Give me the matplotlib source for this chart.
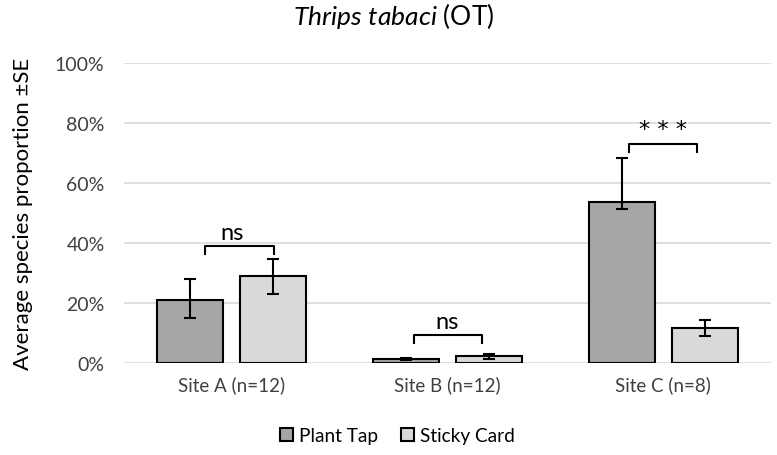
import matplotlib
matplotlib.use("Agg")
import matplotlib.pyplot as plt
import numpy as np

plt.rcParams["font.family"] = ["Lato", "DejaVu Sans"]
plt.rcParams["mathtext.fontset"] = "custom"
plt.rcParams["mathtext.rm"] = "Lato"
plt.rcParams["mathtext.it"] = "Lato:italic"

sites = ["Site A (n=12)", "Site B (n=12)", "Site C (n=8)"]
plant_tap = [21.0, 1.2, 53.8]
plant_lo = [6.0, 0.3, 2.5]
plant_hi = [6.9, 0.3, 14.4]
sticky_card = [28.9, 2.2, 11.8]
sticky_lo = [5.9, 0.9, 2.7]
sticky_hi = [5.9, 0.9, 2.6]

sig_labels = ["ns", "ns", "* * *"]
bracket_top = [39.1, 9.4, 73.1]
bracket_left = [-0.124, -0.156, -0.159]
bracket_right = [0.195, 0.160, 0.156]

x = np.arange(len(sites))
w = 0.306
off = 0.192

fig = plt.figure(figsize=(7.77, 4.56), dpi=100)
ax = fig.add_axes([0.1596, 0.2018, 0.8327, 0.6578])

ax.bar(x - off, plant_tap, w, color="#A6A6A6", edgecolor="black", linewidth=1.5,
       label="Plant Tap", zorder=3)
ax.bar(x + off, sticky_card, w, color="#D9D9D9", edgecolor="black", linewidth=1.5,
       label="Sticky Card", zorder=3)
ax.errorbar(x - off, plant_tap, yerr=[plant_lo, plant_hi], fmt="none", ecolor="black",
            elinewidth=1.5, capsize=4, capthick=1.5, zorder=4)
ax.errorbar(x + off, sticky_card, yerr=[sticky_lo, sticky_hi], fmt="none", ecolor="black",
            elinewidth=1.5, capsize=4, capthick=1.5, zorder=4)

for i in range(len(sites)):
    xl = x[i] + bracket_left[i]
    xr = x[i] + bracket_right[i]
    yt = bracket_top[i]
    ax.plot([xl, xl, xr, xr], [yt - 2.7, yt, yt, yt - 2.7], color="black", lw=1.5, zorder=4)
    if sig_labels[i] == "ns":
        ax.text(x[i], yt + 0.8, sig_labels[i], ha="center", va="bottom", fontsize=17)
    else:
        ax.text(x[i], yt + 1.5, sig_labels[i], ha="center", va="bottom", fontsize=16,
                family="DejaVu Sans")

ax.set_xlim(-0.5, 2.5)
ax.set_ylim(0, 100)
ax.set_yticks(range(0, 101, 20))
ax.set_yticklabels([f"{v}%" for v in range(0, 101, 20)], fontsize=14, color="#404040")
ax.set_xticks(x)
ax.set_xticklabels(sites, fontsize=13.5, color="#404040")
ax.tick_params(length=0)
ax.tick_params(axis="x", pad=9)
ax.tick_params(axis="y", pad=14)
ax.grid(axis="y", color="#D9D9D9", lw=1.2, zorder=0)
for s in ax.spines.values():
    s.set_visible(False)

ax.set_ylabel("Average species proportion ±SE", fontsize=16, labelpad=16)
fig.text(0.507, 0.966, r"$\it{Thrips\ tabaci}$ (OT)", ha="center", va="center", fontsize=19)

fig.legend(loc="center", bbox_to_anchor=(0.511, 0.042), ncol=2, frameon=False, fontsize=13.7,
           handlelength=0.7, handleheight=0.7, handletextpad=0.3, columnspacing=1.2)

fig.savefig("out.png", dpi=100)
